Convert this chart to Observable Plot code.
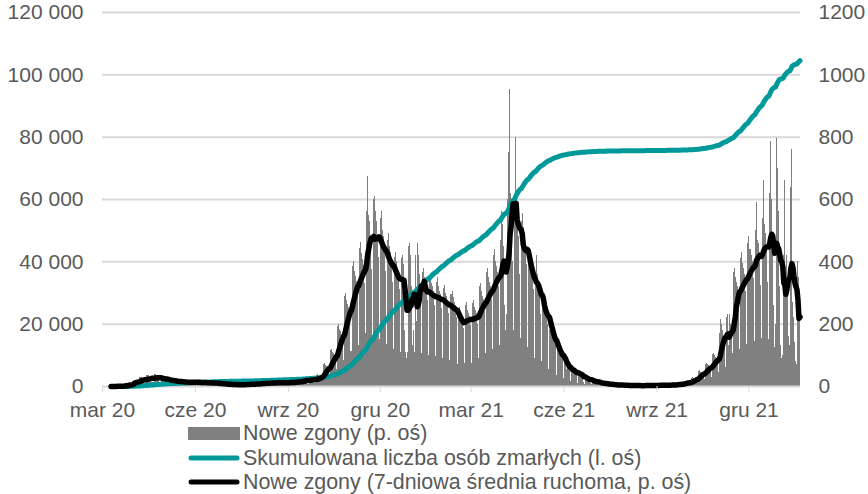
<!DOCTYPE html>
<html><head><meta charset="utf-8">
<script src="https://cdn.jsdelivr.net/npm/d3@7"></script>
<script src="https://cdn.jsdelivr.net/npm/@observablehq/plot@0.6"></script>
<style>
body{margin:0;background:#fff;}
#chart{position:relative;width:868px;height:494px;overflow:hidden;font-family:"Liberation Sans",Arial,sans-serif;}
#chart svg{display:block}
.legend{position:relative;height:74px;color:#595959;font-size:21.4px;}
.row{position:absolute;left:188px;height:24px;display:flex;align-items:center;white-space:nowrap}
.sw{flex:none;margin-right:3px}
</style></head><body><div id="chart"></div>
<script>
// daily new deaths, first value = startDate, one value per day (Mon..Sun per line)
const startDate = "2020-03-09";
const dailyDeaths = [
0,0,0,1,1,0,1,
1,0,2,1,1,2,2,
3,4,5,6,7,5,4,
6,16,18,20,18,14,8,
10,28,30,28,26,20,9,
11,36,36,34,30,25,12,
12,40,38,36,32,27,12,
10,34,34,31,28,22,10,
8,27,27,25,22,18,8,
6,22,22,21,18,15,7,
5,20,20,18,16,13,6,
5,19,20,18,16,14,6,
5,18,18,17,15,12,6,
4,17,17,16,14,11,5,
4,15,16,14,13,10,5,
3,13,13,12,10,9,4,
2,10,10,9,8,7,3,
2,8,9,8,7,6,2,
2,9,8,8,7,5,3,
2,10,10,9,8,7,3,
3,11,11,10,9,8,4,
3,14,14,13,12,10,4,
4,15,16,14,13,10,5,
4,17,17,16,14,11,5,
5,16,18,15,14,12,4,
5,18,18,17,15,12,6,
5,21,21,20,17,14,7,
7,27,27,25,22,18,7,
8,31,31,29,25,21,9,
10,36,38,35,33,32,26,
20,70,73,67,64,61,50,
33,114,119,109,105,100,87,
56,192,200,184,176,168,144,
84,288,300,276,264,252,216,
112,384,400,368,352,336,288,
130,444,463,426,407,389,331,
170,560,674,550,530,480,375,
165,600,610,560,530,480,415,
150,540,560,500,480,450,370,
135,470,490,450,430,410,335,
120,415,430,400,380,365,310,
110,410,420,390,180,110,90,
110,450,460,420,320,130,180,
110,420,210,460,420,360,270,
105,365,380,350,335,320,275,
100,345,360,330,320,305,260,
95,335,350,320,305,295,250,
90,315,325,300,290,275,235,
85,295,305,285,270,260,220,
70,245,255,235,225,220,185,
75,260,270,245,235,225,195,
75,265,275,255,245,235,200,
90,320,330,305,290,280,240,
105,365,380,350,335,320,280,
120,420,440,400,385,365,320,
130,470,560,520,450,260,180,
230,600,750,954,620,550,400,
180,610,800,590,520,480,360,
155,530,555,510,480,460,390,
125,420,440,400,385,370,310,
90,350,420,360,320,290,230,
80,270,285,260,250,235,200,
55,180,190,175,165,160,135,
35,120,125,115,110,110,95,
25,80,85,55,70,68,57,
15,54,56,52,50,47,41,
11,45,45,42,37,30,14,
8,31,31,28,25,21,10,
5,21,21,20,17,14,7,
3,14,14,13,12,10,4,
2,10,10,9,8,7,3,
1,7,7,7,6,5,2,
1,6,6,5,5,4,1,
1,4,4,4,3,3,1,
1,5,4,4,3,2,1,
0,4,5,4,4,3,1,
1,5,4,4,4,3,1,
1,6,5,5,5,4,2,
1,6,6,5,5,4,1,
2,7,7,7,6,5,2,
2,10,10,9,8,7,3,
4,17,17,16,14,11,5,
8,26,28,25,24,23,20,
14,48,50,46,44,42,36,
21,72,75,69,66,63,54,
30,102,107,98,94,89,76,
45,170,215,200,180,160,130,
60,220,230,130,230,200,160,
105,365,380,350,335,320,265,
120,410,430,395,380,360,305,
135,460,480,440,420,400,345,
145,500,590,470,460,430,325,
155,540,660,520,490,440,335,
150,620,785,600,450,260,125,
200,795,700,560,320,130,90,
100,420,660,350,420,300,160,
130,640,760,270,220,140,80,
70,400,350,300
];
const xDomain = ["2020-03-01", "2022-01-21"];
const tickDates = ["2020-03-01","2020-06-01","2020-09-01","2020-12-01","2021-03-01","2021-06-01","2021-09-01","2021-12-01"];
const tickLabels = ["mar 20","cze 20","wrz 20","gru 20","mar 21","cze 21","wrz 21","gru 21"];
const leftTicks = [0, 20000, 40000, 60000, 80000, 100000, 120000];
const rightTicks = [0, 200, 400, 600, 800, 1000, 1200];
const seriesNames = ["Nowe zgony (p. oś)", "Skumulowana liczba osób zmarłych (l. oś)", "Nowe zgony (7-dniowa średnia ruchoma, p. oś)"];
const colors = {bars: "#808080", cum: "#009999", avg: "#000000", grid: "#d9d9d9", text: "#595959"};

const t0 = new Date(startDate);
const cum = d3.cumsum(dailyDeaths);
const data = dailyDeaths.map((v, i) => ({date: d3.utcDay.offset(t0, i), v, cum: cum[i]}));
const mid = d => d3.utcHour.offset(d.date, 12);
const ratio = 100; // right axis = left axis / 100
const tickTimes = tickDates.map(d => +new Date(d));
const fmtLeft = d => d3.format(",")(d).replace(/,/g, " ");

const chart = Plot.plot({
  width: 868, height: 420,
  marginLeft: 102, marginRight: 68, marginTop: 12, marginBottom: 34,
  style: {fontFamily: '"Liberation Sans", Arial, sans-serif', fontSize: "21px", color: colors.text, background: "#fff", overflow: "visible"},
  x: {type: "utc", domain: xDomain.map(d => new Date(d))},
  y: {domain: [0, 120000]},
  marks: [
    Plot.ruleY(leftTicks.slice(1), {stroke: colors.grid, strokeWidth: 2}),
    Plot.rectY(data, {x1: "date", x2: d => d3.utcDay.offset(d.date, 1), y: d => d.v * ratio, fill: colors.bars, shapeRendering: "crispEdges"}),
    Plot.ruleY([0], {stroke: colors.grid, strokeWidth: 2}),
    Plot.lineY(data, {x: mid, y: "cum", stroke: colors.cum, strokeWidth: 5, strokeLinecap: "round", strokeLinejoin: "round"}),
    Plot.lineY(data, Plot.windowY({k: 7, anchor: "end", reduce: "mean"}, {x: mid, y: d => d.v * ratio, stroke: colors.avg, strokeWidth: 5.5, strokeLinecap: "round", strokeLinejoin: "round"})),
    Plot.axisX({ticks: tickTimes.map(t => new Date(t)), tickFormat: d => tickLabels[tickTimes.indexOf(+d)], tickSize: 6, tickPadding: 10, stroke: colors.grid, fill: colors.text, label: null}),
    Plot.axisY({anchor: "left", ticks: leftTicks, tickFormat: fmtLeft, tickSize: 0, tickPadding: 19, label: null}),
    Plot.axisY({anchor: "right", ticks: rightTicks.map(d => d * ratio), tickFormat: d => String(d / ratio), tickSize: 0, tickPadding: 18, label: null})
  ]
});
const root = document.getElementById("chart");
root.appendChild(chart);

// legend below the chart
const legend = document.createElement("div");
legend.className = "legend";
const rowTops = [1, 26, 50];
seriesNames.forEach((name, i) => {
  const row = document.createElement("div");
  row.className = "row";
  row.style.top = rowTops[i] + "px";
  let sw;
  if (i === 0) {
    sw = document.createElement("div");
    sw.style.cssText = `width:52px;height:13px;background:${colors.bars}`;
  } else {
    sw = document.createElementNS("http://www.w3.org/2000/svg", "svg");
    sw.setAttribute("width", 52); sw.setAttribute("height", 10);
    const ln = document.createElementNS("http://www.w3.org/2000/svg", "line");
    ln.setAttribute("x1", 3); ln.setAttribute("x2", 49); ln.setAttribute("y1", 5); ln.setAttribute("y2", 5);
    ln.setAttribute("stroke", i === 1 ? colors.cum : colors.avg);
    ln.setAttribute("stroke-width", 5); ln.setAttribute("stroke-linecap", "round");
    sw.appendChild(ln);
  }
  sw.classList.add("sw");
  const label = document.createElement("span");
  label.textContent = name;
  row.appendChild(sw); row.appendChild(label);
  legend.appendChild(row);
});
root.appendChild(legend);
</script></body></html>
